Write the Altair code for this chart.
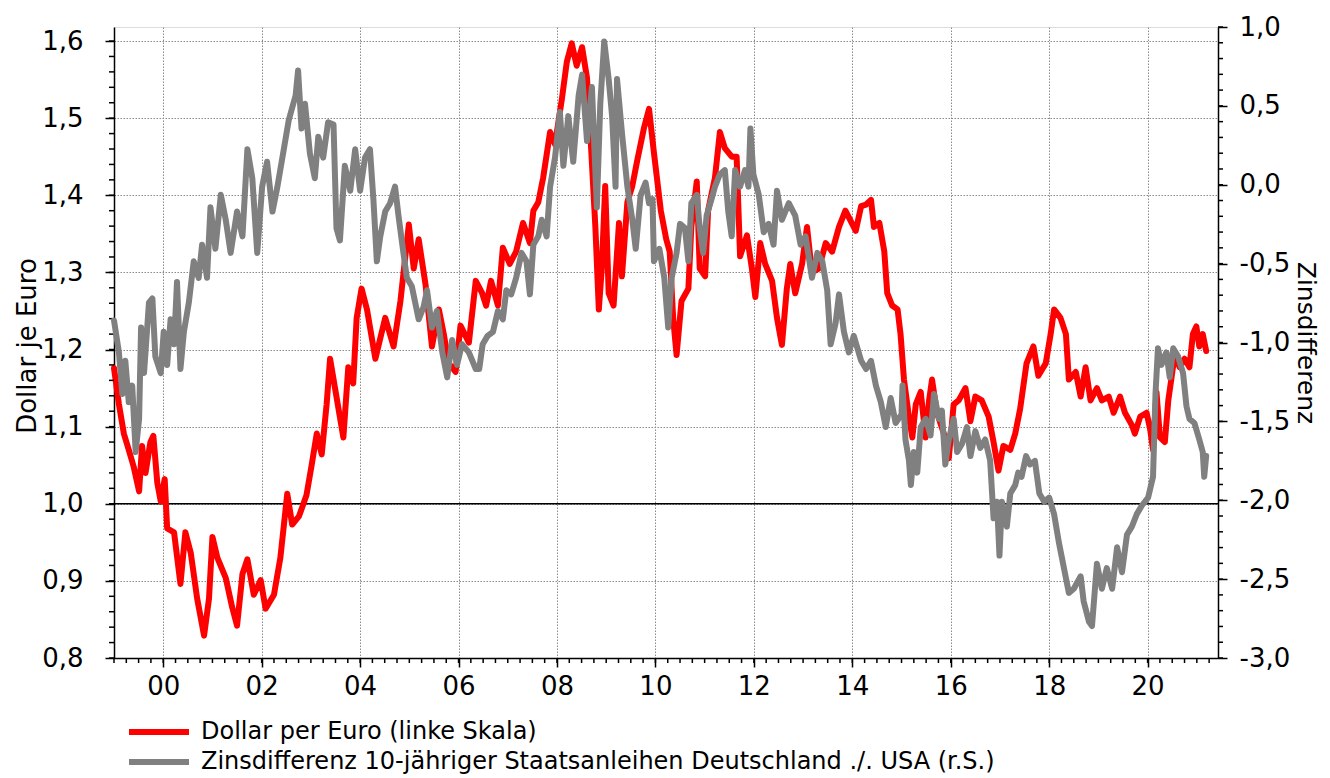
import altair as alt
import pandas as pd

# ---------------- data ----------------
red_years = [1999.00, 1999.10, 1999.20, 1999.30, 1999.40, 1999.51, 1999.57, 1999.64, 1999.74, 1999.80,
             1999.88, 1999.95, 2000.03, 2000.08, 2000.22, 2000.35, 2000.45, 2000.56, 2000.69, 2000.83,
             2000.93, 2001.00, 2001.10, 2001.27, 2001.40, 2001.50, 2001.61, 2001.71, 2001.84, 2001.98,
             2002.08, 2002.25, 2002.38, 2002.52, 2002.62, 2002.76, 2002.91, 2003.01, 2003.12, 2003.22,
             2003.32, 2003.39, 2003.49, 2003.66, 2003.76, 2003.86, 2003.93, 2004.03, 2004.14, 2004.31,
             2004.51, 2004.68, 2004.82, 2004.99, 2005.09, 2005.19, 2005.33, 2005.46, 2005.60, 2005.70,
             2005.80, 2005.94, 2006.04, 2006.21, 2006.35, 2006.48, 2006.56, 2006.66, 2006.80, 2006.90,
             2007.04, 2007.17, 2007.31, 2007.45, 2007.52, 2007.62, 2007.72, 2007.86, 2007.96, 2008.10,
             2008.20, 2008.30, 2008.40, 2008.51, 2008.61, 2008.68, 2008.78, 2008.85, 2008.91, 2008.98,
             2009.05, 2009.15, 2009.26, 2009.32, 2009.43, 2009.53, 2009.63, 2009.77, 2009.87, 2009.97,
             2010.11, 2010.22, 2010.29, 2010.36, 2010.43, 2010.53, 2010.67, 2010.73, 2010.84, 2010.90,
             2011.01, 2011.07, 2011.21, 2011.31, 2011.41, 2011.55, 2011.65, 2011.72, 2011.86, 2011.96,
             2012.03, 2012.13, 2012.23, 2012.37, 2012.47, 2012.57, 2012.67, 2012.74, 2012.84, 2012.98,
             2013.08, 2013.18, 2013.32, 2013.46, 2013.59, 2013.73, 2013.86, 2014.07, 2014.18, 2014.28,
             2014.38, 2014.44, 2014.55, 2014.65, 2014.71, 2014.81, 2014.92, 2014.98, 2015.05, 2015.15,
             2015.22, 2015.29, 2015.39, 2015.49, 2015.56, 2015.62, 2015.72, 2015.86, 2015.96, 2016.06,
             2016.16, 2016.30, 2016.40, 2016.50, 2016.63, 2016.77, 2016.87, 2016.97, 2017.07, 2017.21,
             2017.31, 2017.41, 2017.54, 2017.68, 2017.78, 2017.93, 2018.03, 2018.10, 2018.23, 2018.34,
             2018.40, 2018.54, 2018.64, 2018.74, 2018.84, 2018.97, 2019.07, 2019.21, 2019.31, 2019.44,
             2019.54, 2019.68, 2019.74, 2019.85, 2019.98, 2020.05, 2020.11, 2020.18, 2020.25, 2020.35,
             2020.42, 2020.48, 2020.55, 2020.65, 2020.75, 2020.85, 2020.92, 2020.99, 2021.05, 2021.12,
             2021.19]
red_vals = [1.176, 1.129, 1.091, 1.070, 1.048, 1.016, 1.075, 1.040, 1.080, 1.088,
            1.027, 1.003, 1.032, 0.968, 0.963, 0.896, 0.963, 0.936, 0.877, 0.829,
            0.877, 0.957, 0.930, 0.904, 0.866, 0.842, 0.909, 0.928, 0.882, 0.901,
            0.864, 0.882, 0.930, 1.013, 0.973, 0.984, 1.011, 1.048, 1.091, 1.064,
            1.129, 1.188, 1.150, 1.086, 1.177, 1.156, 1.241, 1.279, 1.252, 1.188,
            1.241, 1.204, 1.263, 1.362, 1.305, 1.343, 1.284, 1.204, 1.252, 1.220,
            1.182, 1.171, 1.231, 1.209, 1.289, 1.273, 1.257, 1.289, 1.257, 1.332,
            1.311, 1.327, 1.364, 1.338, 1.380, 1.391, 1.423, 1.482, 1.466, 1.525,
            1.573, 1.597, 1.568, 1.592, 1.552, 1.477, 1.359, 1.252, 1.305, 1.412,
            1.273, 1.257, 1.364, 1.295, 1.391, 1.412, 1.445, 1.488, 1.512, 1.455,
            1.380, 1.343, 1.327, 1.241, 1.193, 1.263, 1.279, 1.359, 1.418, 1.305,
            1.295, 1.380, 1.423, 1.482, 1.461, 1.450, 1.450, 1.321, 1.348, 1.305,
            1.268, 1.338, 1.311, 1.289, 1.241, 1.206, 1.279, 1.311, 1.273, 1.311,
            1.359, 1.300, 1.305, 1.338, 1.327, 1.359, 1.380, 1.354, 1.386, 1.388,
            1.394, 1.359, 1.364, 1.327, 1.273, 1.257, 1.252, 1.220, 1.161, 1.113,
            1.086, 1.129, 1.145, 1.086, 1.134, 1.161, 1.118, 1.091, 1.059, 1.129,
            1.134, 1.150, 1.107, 1.139, 1.134, 1.113, 1.080, 1.043, 1.075, 1.070,
            1.091, 1.123, 1.182, 1.204, 1.166, 1.182, 1.220, 1.252, 1.241, 1.220,
            1.161, 1.171, 1.139, 1.177, 1.134, 1.150, 1.134, 1.139, 1.118, 1.139,
            1.118, 1.102, 1.091, 1.113, 1.118, 1.097, 1.070, 1.145, 1.086, 1.080,
            1.134, 1.161, 1.193, 1.177, 1.188, 1.177, 1.220, 1.230, 1.204, 1.220,
            1.198]

gray_years = [1999.00, 1999.10, 1999.17, 1999.23, 1999.30, 1999.37, 1999.44, 1999.51, 1999.55, 1999.61,
              1999.71, 1999.78, 1999.84, 1999.95, 2000.01, 2000.08, 2000.15, 2000.22, 2000.28, 2000.35,
              2000.42, 2000.52, 2000.62, 2000.72, 2000.79, 2000.89, 2000.96, 2001.06, 2001.17, 2001.27,
              2001.37, 2001.50, 2001.61, 2001.71, 2001.81, 2001.91, 2002.01, 2002.11, 2002.22, 2002.32,
              2002.45, 2002.55, 2002.62, 2002.69, 2002.74, 2002.81, 2002.88, 2002.98, 2003.08, 2003.15,
              2003.25, 2003.35, 2003.46, 2003.52, 2003.59, 2003.69, 2003.80, 2003.90, 2004.00, 2004.10,
              2004.20, 2004.27, 2004.34, 2004.41, 2004.51, 2004.61, 2004.71, 2004.78, 2004.88, 2004.95,
              2005.05, 2005.19, 2005.29, 2005.36, 2005.46, 2005.56, 2005.67, 2005.77, 2005.87, 2005.97,
              2006.07, 2006.21, 2006.35, 2006.42, 2006.49, 2006.59, 2006.70, 2006.80, 2006.90, 2006.97,
              2007.07, 2007.17, 2007.28, 2007.38, 2007.45, 2007.52, 2007.62, 2007.69, 2007.79, 2007.86,
              2007.96, 2008.06, 2008.13, 2008.23, 2008.33, 2008.44, 2008.51, 2008.61, 2008.71, 2008.81,
              2008.88, 2008.96, 2009.05, 2009.12, 2009.19, 2009.22, 2009.32, 2009.43, 2009.53, 2009.60,
              2009.70, 2009.80, 2009.87, 2009.94, 2009.97, 2010.08, 2010.18, 2010.26, 2010.33, 2010.43,
              2010.50, 2010.60, 2010.67, 2010.73, 2010.84, 2010.90, 2010.97, 2011.04, 2011.14, 2011.21,
              2011.31, 2011.41, 2011.48, 2011.55, 2011.62, 2011.72, 2011.82, 2011.89, 2011.93, 2011.99,
              2012.10, 2012.20, 2012.30, 2012.40, 2012.47, 2012.57, 2012.71, 2012.84, 2012.95, 2013.05,
              2013.18, 2013.29, 2013.39, 2013.49, 2013.56, 2013.66, 2013.73, 2013.83, 2013.93, 2014.03,
              2014.18, 2014.28, 2014.38, 2014.48, 2014.58, 2014.68, 2014.78, 2014.88, 2015.00, 2015.02,
              2015.08, 2015.15, 2015.19, 2015.25, 2015.32, 2015.39, 2015.49, 2015.59, 2015.66, 2015.76,
              2015.82, 2015.89, 2015.96, 2016.06, 2016.13, 2016.23, 2016.33, 2016.40, 2016.50, 2016.60,
              2016.70, 2016.80, 2016.87, 2016.94, 2016.99, 2017.04, 2017.14, 2017.21, 2017.31, 2017.37,
              2017.44, 2017.53, 2017.61, 2017.71, 2017.80, 2017.90, 2018.00, 2018.10, 2018.20, 2018.30,
              2018.40, 2018.50, 2018.64, 2018.70, 2018.81, 2018.87, 2018.97, 2019.07, 2019.17, 2019.28,
              2019.38, 2019.48, 2019.58, 2019.68, 2019.78, 2019.88, 2020.01, 2020.11, 2020.16, 2020.21,
              2020.28, 2020.38, 2020.45, 2020.52, 2020.62, 2020.72, 2020.79, 2020.85, 2020.95, 2021.05,
              2021.12, 2021.15, 2021.19]
gray_vals = [-0.860, -1.063, -1.326, -1.116, -1.378, -1.273, -1.694, -1.484, -0.905, -1.194,
             -0.748, -0.721, -1.089, -1.194, -0.932, -1.142, -0.853, -1.011, -0.616, -1.168,
             -0.932, -0.748, -0.485, -0.590, -0.380, -0.590, -0.143, -0.406, -0.064, -0.222,
             -0.432, -0.170, -0.327, 0.225, 0.041, -0.432, -0.012, 0.146, -0.170, -0.012,
             0.225, 0.409, 0.488, 0.566, 0.724, 0.356, 0.514, 0.198, 0.041, 0.304,
             0.172, 0.396, 0.382, -0.275, -0.353, 0.120, -0.038, 0.225, -0.038, 0.172,
             0.225, -0.091, -0.485, -0.327, -0.170, -0.117, -0.012, -0.196, -0.432, -0.590,
             -0.643, -0.853, -0.774, -0.669, -0.905, -0.800, -1.063, -1.221, -0.984, -1.142,
             -1.011, -1.063, -1.168, -1.168, -1.011, -0.958, -0.932, -0.800, -0.853, -0.669,
             -0.695, -0.590, -0.432, -0.485, -0.695, -0.380, -0.327, -0.222, -0.327, -0.012,
             0.172, 0.461, 0.120, 0.435, 0.146, 0.566, 0.698, 0.277, 0.619, -0.143,
             0.514, 0.908, 0.671, 0.435, -0.012, 0.671, 0.330, -0.012, -0.222, -0.406,
             -0.064, 0.014, -0.117, -0.091, -0.485, -0.406, -0.590, -0.905, -0.590, -0.432,
             -0.248, -0.275, -0.485, -0.117, -0.064, -0.275, -0.432, -0.196, -0.091, -0.012,
             0.067, 0.093, -0.170, -0.327, 0.093, -0.012, 0.093, -0.012, 0.356, 0.067,
             -0.064, -0.301, -0.248, -0.380, -0.038, -0.222, -0.117, -0.196, -0.380, -0.327,
             -0.590, -0.432, -0.485, -0.669, -1.011, -0.879, -0.695, -0.932, -1.063, -0.958,
             -1.116, -1.168, -1.116, -1.273, -1.378, -1.536, -1.352, -1.510, -1.457, -1.273,
             -1.615, -1.746, -1.904, -1.694, -1.825, -1.536, -1.484, -1.589, -1.326, -1.484,
             -1.431, -1.773, -1.615, -1.484, -1.694, -1.641, -1.536, -1.720, -1.562, -1.668,
             -1.615, -1.746, -2.114, -2.009, -2.351, -2.009, -2.167, -1.957, -1.904, -1.825,
             -1.851, -1.720, -1.773, -1.750, -1.957, -2.009, -1.983, -2.088, -2.272, -2.430,
             -2.587, -2.561, -2.482, -2.640, -2.771, -2.798, -2.403, -2.561, -2.430, -2.561,
             -2.298, -2.456, -2.219, -2.167, -2.088, -2.035, -1.983, -1.851, -1.326, -1.037,
             -1.142, -1.063, -1.221, -1.037, -1.089, -1.194, -1.405, -1.484, -1.510, -1.615,
             -1.694, -1.851, -1.720]

RED_NAME = "Dollar per Euro (linke Skala)"
GRAY_NAME = "Zinsdifferenz 10-jähriger Staatsanleihen Deutschland ./. USA (r.S.)"

x_major = [2000, 2002, 2004, 2006, 2008, 2010, 2012, 2014, 2016, 2018, 2020]
x_minor = [1999 + 0.25 * i for i in range(90)]
left_major = [0.8, 0.9, 1.0, 1.1, 1.2, 1.3, 1.4, 1.5, 1.6]
left_minor = [round(0.8 + 0.02 * i, 2) for i in range(41)]
right_major = [-3.0, -2.5, -2.0, -1.5, -1.0, -0.5, 0.0, 0.5, 1.0]
right_minor = [round(-3.0 + 0.1 * i, 1) for i in range(41)]

# ---------------- chart ----------------
W, H = 1104, 631
FONT = "DejaVu Sans"
GRID = dict(grid=True, gridColor="#8a8a8a", gridDash=[1.5, 1.5], gridWidth=1)

red_df = pd.DataFrame({"year": red_years, "val": red_vals, "series": RED_NAME})
gray_df = pd.DataFrame({"year": gray_years, "val": gray_vals, "series": GRAY_NAME})

xscale = alt.Scale(domain=[1999.0, 2021.43], nice=False, zero=False)
lscale = alt.Scale(domain=[0.8, 1.6182], nice=False, zero=False)
rscale = alt.Scale(domain=[-3.0, 1.0], nice=False, zero=False)

color = alt.Color(
    "series:N",
    scale=alt.Scale(domain=[RED_NAME, GRAY_NAME], range=["#ff0000", "#808080"]),
    legend=alt.Legend(
        title=None, orient="none", legendX=12, legendY=690, direction="vertical",
        symbolType="stroke", symbolSize=3600, symbolStrokeWidth=6,
        labelFont=FONT, labelFontSize=24, labelColor="black", labelLimit=0,
        labelOffset=9, rowPadding=0, clipHeight=30,
    ),
)

x_axis = alt.Axis(
    values=x_major, labelExpr="substring(toString(datum.value), 2, 4)", title=None,
    tickSize=9, tickColor="black", tickWidth=1.5, domainColor="black", domainWidth=1.5,
    labelFont=FONT, labelFontSize=26, labelColor="black", labelPadding=6, **GRID,
)

left_axis = alt.Axis(
    values=left_major, labelExpr="replace(format(datum.value, '.1f'), '.', ',')",
    title="Dollar je Euro", titleFont=FONT, titleFontSize=26, titleFontWeight="normal",
    titleColor="black", titleAngle=270, titleX=-87, titleY=H / 2 + 3, titleAlign="center",
    titleBaseline="middle",
    tickSize=9, tickColor="black", tickWidth=1.5, domainColor="black", domainWidth=1.5,
    labelFont=FONT, labelFontSize=26, labelColor="black", labelPadding=22, **GRID,
)

right_axis = alt.Axis(
    orient="right", values=right_major,
    labelExpr="(datum.value < 0 ? '-' : '') + replace(format(abs(datum.value), '.1f'), '.', ',')",
    title="Zinsdifferenz", titleFont=FONT, titleFontSize=25, titleFontWeight="normal",
    titleColor="black", titleAngle=90, titleX=87, titleY=H / 2, titleAlign="center",
    titleBaseline="middle",
    tickSize=9, tickColor="black", tickWidth=1.5, domainColor="black", domainWidth=1.5,
    labelFont=FONT, labelFontSize=26, labelColor="black", labelPadding=12, grid=False,
)

red_line = alt.Chart(red_df).mark_line(strokeWidth=6, strokeJoin="round", strokeCap="round").encode(
    x=alt.X("year:Q", scale=xscale, axis=x_axis),
    y=alt.Y("val:Q", scale=lscale, axis=left_axis),
    color=color,
)

hline = alt.Chart(pd.DataFrame({"val": [1.0]})).mark_rule(color="black", strokeWidth=1.5).encode(
    y=alt.Y("val:Q", scale=lscale, axis=left_axis)
)

left_minor_ticks = alt.Chart(pd.DataFrame({"val": left_minor})).mark_rule(color="black", strokeWidth=1.5).encode(
    y=alt.Y("val:Q", scale=lscale, axis=left_axis), x=alt.value(-5), x2=alt.value(0)
)

bottom_minor_ticks = alt.Chart(pd.DataFrame({"year": x_minor})).mark_rule(color="black", strokeWidth=1.5).encode(
    x=alt.X("year:Q", scale=xscale, axis=x_axis), y=alt.value(H), y2=alt.value(H + 5)
)

gray_line = alt.Chart(gray_df).mark_line(strokeWidth=6, strokeJoin="round", strokeCap="round").encode(
    x=alt.X("year:Q", scale=xscale, axis=x_axis),
    y=alt.Y("val:Q", scale=rscale, axis=right_axis),
    color=color,
)

right_minor_ticks = alt.Chart(pd.DataFrame({"val": right_minor})).mark_rule(color="black", strokeWidth=1.5).encode(
    y=alt.Y("val:Q", scale=rscale, axis=right_axis), x=alt.value(W), x2=alt.value(W + 5)
)

left_group = alt.layer(hline, red_line, left_minor_ticks, bottom_minor_ticks)
right_group = alt.layer(gray_line, right_minor_ticks)

chart = (
    alt.layer(left_group, right_group)
    .resolve_scale(y="independent")
    .properties(
        width=W, height=H,
        autosize=alt.AutoSizeParams(type="none"),
        padding={"left": 106, "top": 19, "right": 104, "bottom": 118},
        background="white",
    )
    .configure_view(stroke="#222222", strokeWidth=1.5)
    .configure(font=FONT)
)

chart.save("out.html", embed_options={"renderer": "svg", "actions": False})
